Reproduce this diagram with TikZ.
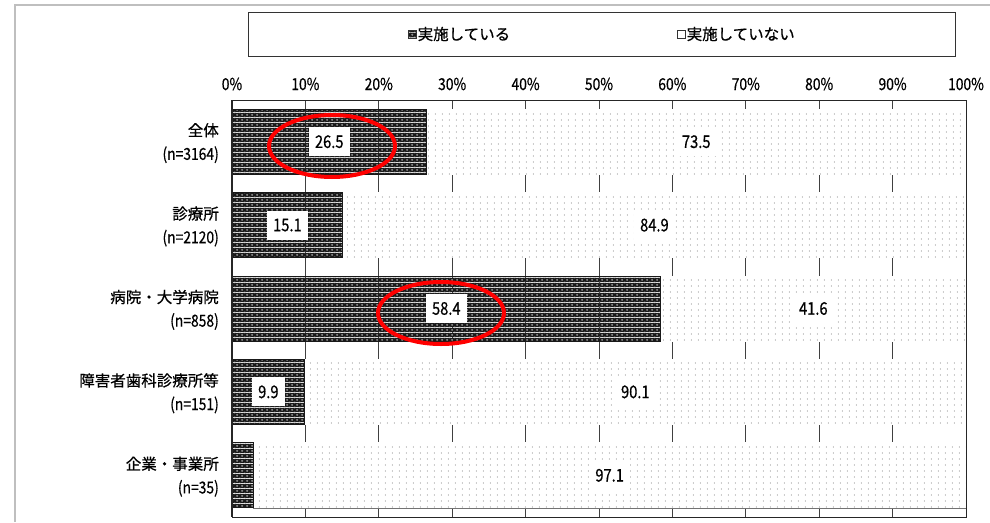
\documentclass[tikz,border=0pt]{standalone}
\usepackage{fontspec}
\setmainfont{Noto Sans CJK JP}
\newfontfamily\narrow[FakeStretch=0.84,FakeBold=0.6]{Noto Sans CJK JP}
\newfontfamily\jpbold[FakeBold=0.6]{Noto Sans CJK JP}
\usetikzlibrary{patterns.meta}

\tikzdeclarepattern{
  name=darkmesh,
  type=colored,
  bounding box={(0pt,0pt) and (5pt,5pt)},
  tile size={(5pt,5pt)},
  code={
    \fill[black!90] (0pt,0pt) rectangle (5pt,5pt);
    \fill[black!45] (2.5pt,2.5pt) circle (1.3pt);
    \fill[black!65] (0pt,0pt) circle (0.6pt);
    \fill[black!65] (5pt,0pt) circle (0.6pt);
    \fill[black!65] (0pt,5pt) circle (0.6pt);
    \fill[black!65] (5pt,5pt) circle (0.6pt);
  }
}
\tikzdeclarepattern{
  name=sparsedots,
  type=colored,
  bounding box={(0pt,0pt) and (7.34pt,6.4pt)},
  tile size={(7.34pt,6.4pt)},
  code={
    \fill[white] (0pt,0pt) rectangle (7.34pt,6.4pt);
    \fill[black!55] (3.67pt,3.2pt) circle (0.6pt);
  }
}

\tikzset{
  jp/.style={font=\jpbold\fontsize{15.5}{18}\selectfont, inner sep=0pt},
  num/.style={font=\narrow\fontsize{16.5}{18}\selectfont, inner sep=0pt},
  vallabel/.style={font=\narrow\fontsize{17.5}{18}\selectfont, fill=white, inner xsep=6pt, minimum height=29pt},
  gridline/.style={draw=black!75, line width=0.9pt},
  darkbar/.style={draw=black!90, line width=0.8pt, pattern={darkmesh}},
  lightbar/.style={draw=black!55, line width=0.6pt, fill=white, postaction={pattern={sparsedots}}},
  legsq/.style={minimum size=8pt, inner sep=0pt, draw=black!80, line width=0.6pt},
  redmark/.style={draw=red, line width=4pt}
}

\begin{document}
\begin{tikzpicture}[x=1pt,y=-1pt]
\useasboundingbox (0,0) rectangle (990,522);
\fill[white] (0,0) rectangle (990,522);

% outer frame
\draw[black!25, line width=2pt] (15,522) -- (15,5) -- (990,5);

% legend
\node[draw=black!80, line width=0.9pt, minimum width=707pt, minimum height=44pt, inner sep=0pt, anchor=north west] (legend) at (248,12) {};
\node[legsq, pattern={darkmesh}] (sq1) at (412,34) {};
\node[jp, anchor=west] (l1) at (417.5,34) {実施している};
\node[legsq, fill=white] (sq2) at (681,34) {};
\node[jp, anchor=west] (l2) at (686.5,34) {実施していない};

% percent labels
\foreach \k in {0,...,10}{
  \pgfmathtruncatemacro\pc{10*\k}
  \node[num] (p\k) at ({232+73.4*\k},84) {\pc\%};
}

% gridlines
\foreach \k in {1,...,9}{
  \draw[gridline] ({232+73.4*\k},100) -- ({232+73.4*\k},517);
}

% bars
\foreach \i/\a/\b/\cat/\n/\show in {0/26.5/73.5/全体/3164/1, 1/15.1/84.9/診療所/2120/1, 2/58.4/41.6/病院・大学病院/858/1, 3/9.9/90.1/障害者歯科診療所等/151/1, 4/2.9/97.1/企業・事業所/35/0}{
  \pgfmathsetmacro\c{100+83.4*(\i+0.5)}
  \pgfmathsetmacro\xa{232+7.34*\a}
  \path[lightbar] (\xa,{\c-32.5}) rectangle (966,{\c+32.5});
  \path[darkbar] (232,{\c-32.5}) rectangle (\xa,{\c+32.5});
  \ifnum\show=1
    \node[vallabel] (d\i) at ({(232+\xa)/2},\c) {\a};
  \fi
  \node[vallabel] (w\i) at ({(\xa+966)/2},\c) {\b};
  \node[jp, anchor=east] (c\i) at (219,{\c-11.5}) {\cat};
  \node[num, anchor=east] (n\i) at (219,{\c+13}) {(n=\n)};
}

% plot frame
\draw[black!85, line width=1pt] (232,100) rectangle (966,517);
\draw[black!85, line width=1.2pt] (232,100) -- (232,517);

% red marks
\draw[redmark] (332,146) ellipse [x radius=63pt, y radius=31pt];
\draw[redmark] (441,313) ellipse [x radius=63pt, y radius=31pt];
\end{tikzpicture}
\end{document}
